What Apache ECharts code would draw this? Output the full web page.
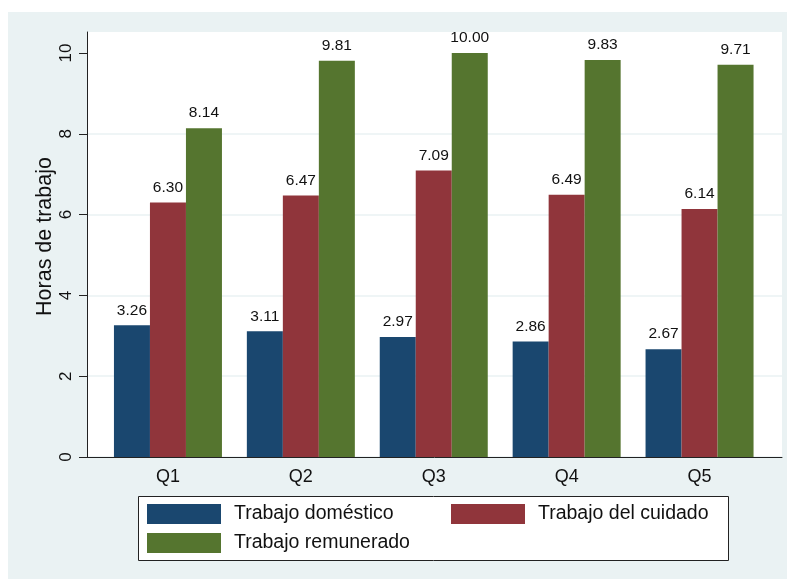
<!DOCTYPE html>
<html><head><meta charset="utf-8">
<script src="https://cdn.jsdelivr.net/npm/echarts@6/dist/echarts.min.js"></script>
<style>html,body{margin:0;padding:0;background:#fff}#c{width:787px;height:579px}</style>
</head><body><div id="c"></div>
<script>
const categories = ['Q1', 'Q2', 'Q3', 'Q4', 'Q5'];
const domestico = [3.26, 3.11, 2.97, 2.86, 2.67];
const cuidado = [6.30, 6.47, 7.09, 6.49, 6.14];
const remunerado = [8.14, 9.81, 10.00, 9.83, 9.71];
const seriesNames = ['Trabajo doméstico', 'Trabajo del cuidado', 'Trabajo remunerado'];
const yTicks = [0, 2, 4, 6, 8, 10];
const yTitle = 'Horas de trabajo';

const colors = ['#1a476f', '#90353b', '#55752f'];
const font = 'Arial, "Liberation Sans", sans-serif';
const values = [domestico, cuidado, remunerado];

const chart = echarts.init(document.getElementById('c'));
const mkSeries = (i) => ({
  name: seriesNames[i], type: 'bar', xAxisIndex: 1, yAxisIndex: 1,
  data: values[i], barWidth: 36, barGap: '0%',
  itemStyle: { color: colors[i] },
  label: { show: true, position: 'top', distance: 7, fontSize: 15.5, fontFamily: font, color: '#111',
    formatter: p => p.value.toFixed(2) }
});
const mkLegend = (name, left, top) => ({
  data: [name], left: left, top: top, icon: 'rect', itemWidth: 74, itemHeight: 20,
  padding: 0, selectedMode: false,
  textStyle: { fontSize: 19.5, fontFamily: font, color: '#111', padding: [0, 0, 0, 8] }
});
chart.setOption({
  animation: false,
  backgroundColor: '#ffffff',
  graphic: [
    { type: 'rect', z: -100, shape: { x: 8, y: 12, width: 779, height: 567 }, style: { fill: '#eaf2f3' } },
    { type: 'rect', z: -50, shape: { x: 138.5, y: 496.5, width: 590, height: 64 }, style: { fill: '#ffffff', stroke: '#222', lineWidth: 1 } }
  ],
  legend: [
    mkLegend(seriesNames[0], 147, 504),
    mkLegend(seriesNames[1], 451, 504),
    mkLegend(seriesNames[2], 147, 533)
  ],
  grid: [
    { left: 87, right: 5, top: 32, bottom: 122, show: true, backgroundColor: '#ffffff', borderWidth: 0 },
    { left: 101.5, right: 21, top: 32, bottom: 122 }
  ],
  xAxis: [
    { type: 'value', gridIndex: 0, min: 0, max: 1,
      axisLine: { show: true, onZero: false, lineStyle: { color: '#222', width: 1 } },
      axisTick: { show: false }, axisLabel: { show: false }, splitLine: { show: false } },
    { type: 'category', gridIndex: 1, data: categories,
      axisLine: { show: false }, axisTick: { show: false },
      axisLabel: { fontSize: 18, fontFamily: font, color: '#111', margin: 11 } }
  ],
  yAxis: [
    { type: 'value', gridIndex: 0, min: 0, max: 10.52, interval: 2,
      name: yTitle, nameLocation: 'middle', nameGap: 31, nameRotate: 90, nameMoveOverlap: false,
      nameTextStyle: { fontSize: 21.5, fontFamily: font, color: '#111', padding: [0, 0, 0, 16] },
      axisLine: { show: true, lineStyle: { color: '#222', width: 1 } },
      axisTick: { show: true, length: 8, lineStyle: { color: '#222' }, customValues: yTicks },
      axisLabel: { rotate: 90, fontSize: 17, fontFamily: font, color: '#111', margin: 12, customValues: yTicks,
        formatter: v => (yTicks.indexOf(v) >= 0 ? String(v) : '') },
      splitLine: { show: true, showMaxLine: false, lineStyle: { color: '#eaf2f3', width: 1.5 } } },
    { type: 'value', gridIndex: 1, min: 0, max: 10.52, show: false }
  ],
  series: [mkSeries(0), mkSeries(1), mkSeries(2)]
});
</script></body></html>
